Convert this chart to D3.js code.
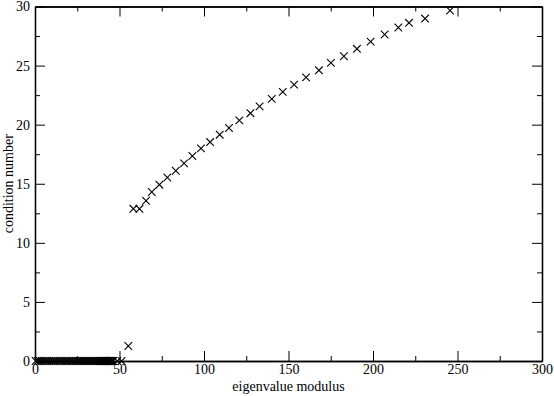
<!DOCTYPE html>
<html>
<head>
<meta charset="utf-8">
<script src="https://cdn.jsdelivr.net/npm/d3@7"></script>
<style>
  body { margin: 0; background: #fff; }
  svg { display: block; }
  text { font-family: "Liberation Serif", "DejaVu Serif", serif; }
</style>
</head>
<body>
<svg></svg>
<script>
// eigenvalues sitting at condition number 0
const lowModulus = [0.4, 1.6, 2.8, 3.9, 5.1, 6.3, 7.4, 8.6, 9.8, 11.0, 12.1, 13.3, 14.5, 15.6,
  16.8, 18.0, 19.1, 20.3, 21.5, 22.6, 23.8, 25.0, 26.1, 27.3, 28.5, 29.6, 30.8, 32.0, 33.1,
  34.3, 35.5, 36.6, 37.6, 38.4, 39.0, 39.5, 40.0, 40.4, 40.8, 41.2, 41.6, 42.0, 42.4, 42.8,
  43.2, 43.6, 44.0, 44.4, 44.8, 45.2, 45.6, 46.0, 46.3, 48.7, 51.2];
const lowCondition = lowModulus.map(() => 0);

// the rising branch
const highModulus = [55.2, 58.2, 61.8, 65.7, 69.1, 73.6, 78.3, 83.3, 88.2, 93.1, 98.2, 103.6,
  109.3, 114.8, 120.9, 127.5, 132.9, 140.1, 146.6, 153.3, 160.4, 168.0, 175.1, 182.8, 190.5,
  198.6, 206.9, 215.0, 221.3, 230.8, 245.6];
const highCondition = [1.27, 12.88, 12.88, 13.56, 14.30, 14.92, 15.53, 16.10, 16.72, 17.35,
  17.99, 18.53, 19.15, 19.72, 20.36, 20.97, 21.55, 22.18, 22.77, 23.39, 24.0, 24.6, 25.23,
  25.79, 26.42, 27.03, 27.63, 28.22, 28.62, 28.98, 29.66];

const xMajor = [0, 50, 100, 150, 200, 250, 300];
const xMinor = [25, 75, 125, 175, 225, 275];
const yMajor = [0, 5, 10, 15, 20, 25, 30];
const yMinor = [2.5, 7.5, 12.5, 17.5, 22.5, 27.5];

const width = 554, height = 396;
const margin = {top: 6.5, right: 12, bottom: 35, left: 35};
const serif = "'Liberation Serif', 'DejaVu Serif', serif";

const svg = d3.select("svg").attr("width", width).attr("height", height);

const x = d3.scaleLinear().domain([0, 300]).range([margin.left, width - margin.right]);
const y = d3.scaleLinear().domain([0, 30]).range([height - margin.bottom, margin.top]);

const points = lowModulus.map((m, i) => ({m, c: lowCondition[i]}))
  .concat(highModulus.map((m, i) => ({m, c: highCondition[i]})));

// frame + ticks (inward on all sides)
function styleAxis(g) {
  g.attr("font-family", serif).attr("font-size", 14);
  g.selectAll("path.domain").attr("stroke", "#000").attr("stroke-width", 1.3);
  g.selectAll(".tick line").attr("stroke", "#000").attr("stroke-width", 1);
  g.selectAll(".tick text").attr("font-family", serif).attr("font-size", 14).attr("fill", "#000");
}

svg.append("g")
    .attr("transform", `translate(0,${y(0)})`)
    .call(d3.axisBottom(x).tickValues(xMajor).tickSize(-10).tickSizeOuter(0).tickPadding(3).tickFormat(d3.format("d")))
    .call(styleAxis);
svg.append("g")
    .attr("transform", `translate(0,${y(0)})`)
    .call(d3.axisBottom(x).tickValues(xMinor).tickSize(-5).tickSizeOuter(0).tickFormat(""))
    .call(styleAxis);
svg.append("g")
    .attr("transform", `translate(0,${y(30)})`)
    .call(d3.axisTop(x).tickValues(xMajor).tickSize(-10).tickSizeOuter(0).tickFormat(""))
    .call(styleAxis);
svg.append("g")
    .attr("transform", `translate(0,${y(30)})`)
    .call(d3.axisTop(x).tickValues(xMinor).tickSize(-5).tickSizeOuter(0).tickFormat(""))
    .call(styleAxis);

svg.append("g")
    .attr("transform", `translate(${x(0)},0)`)
    .call(d3.axisLeft(y).tickValues(yMajor).tickSize(-10).tickSizeOuter(0).tickPadding(5).tickFormat(d3.format("d")))
    .call(styleAxis);
svg.append("g")
    .attr("transform", `translate(${x(0)},0)`)
    .call(d3.axisLeft(y).tickValues(yMinor).tickSize(-5).tickSizeOuter(0).tickFormat(""))
    .call(styleAxis);
svg.append("g")
    .attr("transform", `translate(${x(300)},0)`)
    .call(d3.axisRight(y).tickValues(yMajor).tickSize(-10).tickSizeOuter(0).tickFormat(""))
    .call(styleAxis);
svg.append("g")
    .attr("transform", `translate(${x(300)},0)`)
    .call(d3.axisRight(y).tickValues(yMinor).tickSize(-5).tickSizeOuter(0).tickFormat(""))
    .call(styleAxis);

// x markers
const r = 3.8;
svg.append("g")
    .attr("stroke", "#000")
    .attr("stroke-width", 1.1)
    .attr("fill", "none")
  .selectAll("path")
  .data(points)
  .join("path")
    .attr("d", d => {
      const px = x(d.m), py = y(d.c);
      return `M${px - r},${py - r}L${px + r},${py + r}M${px - r},${py + r}L${px + r},${py - r}`;
    });

// axis titles
svg.append("text")
    .attr("x", (x(0) + x(300)) / 2)
    .attr("y", 391)
    .attr("text-anchor", "middle")
    .attr("font-family", serif)
    .attr("font-size", 14)
    .text("eigenvalue modulus");

svg.append("text")
    .attr("transform", `translate(13,${(y(0) + y(30)) / 2}) rotate(-90)`)
    .attr("text-anchor", "middle")
    .attr("font-family", serif)
    .attr("font-size", 14)
    .text("condition number");
</script>
</body>
</html>
